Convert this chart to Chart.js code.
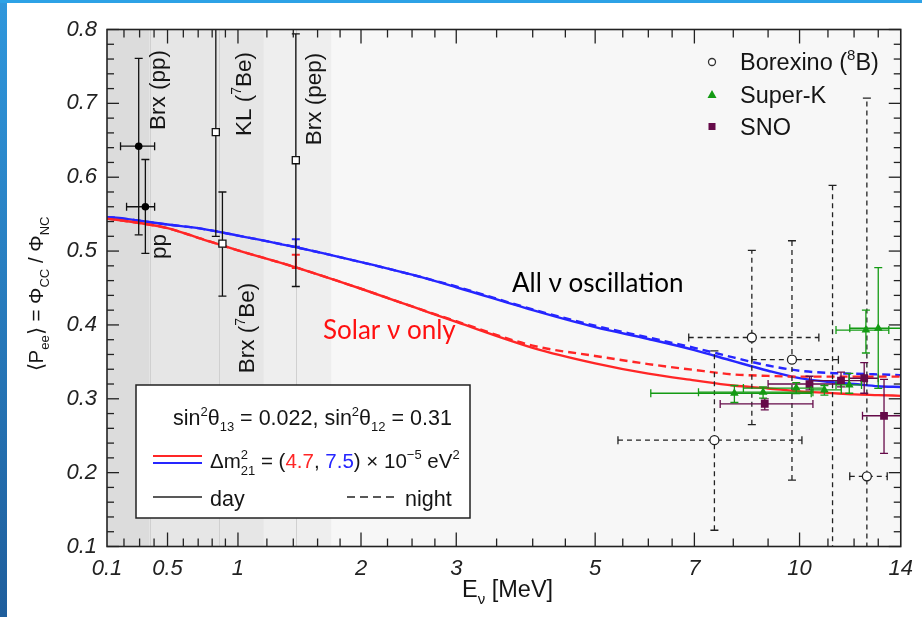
<!DOCTYPE html>
<html>
<head>
<meta charset="utf-8">
<script src="https://cdn.jsdelivr.net/npm/chart.js@4.4.0/dist/chart.umd.min.js"></script>
<style>
  html, body { margin: 0; padding: 0; background: #fff; overflow: hidden; }
  #wrap { position: relative; width: 922px; height: 617px; }
  #lbar { position: absolute; left: 0; top: 0; width: 7px; height: 617px; background: linear-gradient(#2f97dc, #1f5e9c); }
  #tbar { position: absolute; left: 0; top: 0; width: 922px; height: 3px; background: #2da2e6; }
  canvas { position: absolute; left: 0; top: 0; }
</style>
</head>
<body>
<div id="wrap">
  <canvas id="chart" width="922" height="617"></canvas>
  <div id="lbar"></div>
  <div id="tbar"></div>
</div>
<script>
// ---- data ----
const xTicks = [0.1, 0.5, 1, 2, 3, 5, 7, 10, 14];
const xMinor = [0.2, 0.3, 0.4, 0.6, 0.7, 0.8, 0.9, 1.2, 1.4, 1.6, 1.8, 2.25, 2.5, 2.75,
                3.5, 4, 4.5, 5.5, 6, 6.5, 8, 9, 11, 12, 13];
const yTicks = [0.1, 0.2, 0.3, 0.4, 0.5, 0.6, 0.7, 0.8];

// curves: <Pee> vs E for the two dm21^2 values, day and night
const curveE     = [0.1, 0.2, 0.3, 0.5, 0.7, 1, 1.4, 2, 2.5, 3, 4, 5, 6, 7, 8, 9, 10, 11, 12, 13, 14];
const allDay     = [0.546, 0.544, 0.541, 0.536, 0.531, 0.521, 0.506, 0.485, 0.468, 0.451, 0.420, 0.397, 0.381, 0.366, 0.351, 0.338, 0.328, 0.323, 0.320, 0.317, 0.316];
const allNight   = [0.546, 0.544, 0.541, 0.536, 0.531, 0.521, 0.506, 0.485, 0.468, 0.452, 0.421, 0.399, 0.383, 0.369, 0.356, 0.345, 0.338, 0.335, 0.334, 0.333, 0.332];
const solarDay   = [0.544, 0.541, 0.538, 0.531, 0.518, 0.501, 0.479, 0.449, 0.425, 0.404, 0.369, 0.348, 0.334, 0.325, 0.318, 0.314, 0.310, 0.308, 0.306, 0.305, 0.304];
const solarNight = [0.544, 0.541, 0.538, 0.531, 0.518, 0.501, 0.479, 0.449, 0.425, 0.405, 0.372, 0.358, 0.347, 0.339, 0.333, 0.331, 0.330, 0.330, 0.330, 0.330, 0.330];

// measurements: [E, P, Plo, Phi, Elo, Ehi]
const brxLowFilled = [[0.294, 0.642, 0.522, 0.761, 0.179, 0.404],
                      [0.339, 0.560, 0.497, 0.624, 0.216, 0.404]];
const lowOpen = [[0.827, 0.661, 0.520, 0.85, null, null],
                 [0.877, 0.510, 0.439, 0.580, null, null],
                 [1.420, 0.623, 0.452, 0.794, null, null]];
const predAll   = [[1.420, 0.516, 0.506, 0.516, null, null]];
const predSolar = [[1.420, 0.495, 0.477, 0.495, null, null]];
const borexino = [[8.52, 0.383, 0.265, 0.501, 6.87, 10.67],
                  [9.75, 0.353, 0.190, 0.514, 8.52, 11.39],
                  [7.50, 0.244, 0.122, 0.365, 5.41, 10.08],
                  [12.52, 0.195, 0.05, 0.707, 11.83, 13.39],
                  [11.17, 0.05, -0.1, 0.589, 10.2, 12.2]];
const superK = [[8.03, 0.3075, 0.295, 0.318, 6.05, 10.40],
                [8.85, 0.309, 0.301, 0.316, 7.10, 10.46],
                [9.89, 0.3145, 0.307, 0.322, 8.28, 10.87],
                [10.87, 0.312, 0.305, 0.318, 10.40, 11.50],
                [11.81, 0.3187, 0.3075, 0.3345, 11.30, 12.30],
                [12.48, 0.393, 0.362, 0.420, 11.30, 13.46],
                [13.00, 0.3955, 0.314, 0.4775, 11.83, 14.0]];
const sno = [[8.90, 0.293, 0.285, 0.300, 7.65, 10.46],
             [10.34, 0.320, 0.312, 0.3305, 9.00, 11.49],
             [11.49, 0.3245, 0.316, 0.336, 10.40, 12.30],
             [12.41, 0.3278, 0.3075, 0.349, 11.80, 13.00],
             [13.25, 0.277, 0.226, 0.3264, 12.34, 14.0]];

// pp / 7Be / pep shaded regions
const bands = [[0.1, 0.369, '#dcdcdc'], [0.369, 1.178, '#e6e6e6'], [1.178, 1.72, '#eeeeee']];
const bandLines = [0.369, 0.852, 1.418];

const FONT = "'Liberation Sans', Arial, sans-serif";
const BLUE = '#2626ff', RED = '#ff2626', GREEN = '#139a13', PURPLE = '#650a49';

// ---- custom energy axis (compressed below 1 MeV, log-like above) ----
const knotT = xTicks.map(e => Math.log10(e + 1));
const knotF = [0, 61, 132, 256, 352, 492, 592, 698, 800].map(p => p / 800);

function warp(v) {
  const t = Math.log10(Math.max(v, -0.99) + 1);
  let i = 0;
  while (i < knotT.length - 2 && t > knotT[i + 1]) i++;
  return knotF[i] + (t - knotT[i]) / (knotT[i + 1] - knotT[i]) * (knotF[i + 1] - knotF[i]);
}
function unwarp(f) {
  let i = 0;
  while (i < knotF.length - 2 && f > knotF[i + 1]) i++;
  const t = knotT[i] + (f - knotF[i]) / (knotF[i + 1] - knotF[i]) * (knotT[i + 1] - knotT[i]);
  return Math.pow(10, t) - 1;
}

class WarpScale extends Chart.LinearScale {
  buildTicks() { return xTicks.map(v => ({ value: v })); }
  getPixelForValue(v) { return this.getPixelForDecimal(warp(v)); }
  getValueForPixel(p) { return unwarp(this.getDecimalForPixel(p)); }
}
WarpScale.id = 'warp';
WarpScale.defaults = Chart.LinearScale.defaults;
Chart.register(WarpScale);

// ---- helpers ----
function drawRich(ctx, segs, x, y, size, align) {
  const big = size + 'px ' + FONT;
  const small = Math.round(size * 0.62) + 'px ' + FONT;
  const widthOf = s => {
    ctx.font = s[1] ? small : big;
    if (s[1] === 'ss') return Math.max(...s[0].split('|').map(t => ctx.measureText(t).width));
    return ctx.measureText(s[0]).width;
  };
  let w = 0;
  segs.forEach(s => { w += widthOf(s); });
  let cx = align === 'center' ? x - w / 2 : x;
  ctx.textAlign = 'left';
  ctx.textBaseline = 'alphabetic';
  segs.forEach(s => {
    const sw = widthOf(s);
    ctx.fillStyle = s[2] || '#151515';
    if (s[1] === 'sup') ctx.fillText(s[0], cx, y - size * 0.42);
    else if (s[1] === 'sub') ctx.fillText(s[0], cx, y + size * 0.28);
    else if (s[1] === 'ss') {
      const [a, b] = s[0].split('|');
      ctx.fillText(a, cx, y - size * 0.45);
      ctx.fillText(b, cx, y + size * 0.32);
    } else ctx.fillText(s[0], cx, y);
    cx += sw;
  });
}

function drawRotated(ctx, segs, cx, cy, size) {
  ctx.save();
  ctx.translate(cx, cy);
  ctx.rotate(-Math.PI / 2);
  drawRich(ctx, segs, 0, size * 0.36, size, 'center');
  ctx.restore();
}

function line(ctx, x0, y0, x1, y1) {
  ctx.beginPath(); ctx.moveTo(x0, y0); ctx.lineTo(x1, y1); ctx.stroke();
}

function pts(rows) { return rows.map(r => ({ x: r[0], y: r[1] })); }
function curve(vals) { return curveE.map((e, i) => ({ x: e, y: vals[i] })); }

// ---- plugin: shading, error bars, frame, ticks, legends, labels ----
const decor = {
  id: 'decor',
  beforeDatasetsDraw(chart) {
    const { ctx, chartArea: a, scales: { x } } = chart;
    ctx.save();
    ctx.fillStyle = '#f7f7f7';
    ctx.fillRect(a.left, a.top, a.width, a.height);
    bands.forEach(([e0, e1, col]) => {
      const p0 = x.getPixelForValue(e0), p1 = x.getPixelForValue(e1);
      ctx.fillStyle = col;
      ctx.fillRect(p0, a.top, p1 - p0, a.height);
    });
    ctx.strokeStyle = '#d0d0d0';
    ctx.lineWidth = 1;
    bandLines.forEach(e => {
      const p = Math.round(x.getPixelForValue(e)) + 0.5;
      line(ctx, p, a.top, p, a.bottom);
    });
    ctx.restore();
  },
  beforeDatasetDraw(chart, args) {
    const ds = chart.data.datasets[args.index];
    if (!ds.err) return;
    const { ctx, chartArea: a, scales: { x, y } } = chart;
    ctx.save();
    ctx.beginPath();
    ctx.rect(a.left, a.top, a.width, a.height);
    ctx.clip();
    ctx.strokeStyle = ds.errColor;
    ctx.lineWidth = ds.errWidth || 1.3;
    ctx.setLineDash(ds.errDash || []);
    const cap = 4;
    ds.err.forEach(([e, p, plo, phi, elo, ehi]) => {
      const px = x.getPixelForValue(e), py = y.getPixelForValue(p);
      if (plo !== null) {
        const y0 = y.getPixelForValue(plo), y1 = y.getPixelForValue(phi);
        line(ctx, px, y0, px, y1);
        ctx.setLineDash([]);
        line(ctx, px - cap, y0, px + cap, y0);
        line(ctx, px - cap, y1, px + cap, y1);
        ctx.setLineDash(ds.errDash || []);
      }
      if (elo !== null) {
        const x0 = x.getPixelForValue(elo), x1 = x.getPixelForValue(ehi);
        line(ctx, x0, py, x1, py);
        ctx.setLineDash([]);
        line(ctx, x0, py - cap, x0, py + cap);
        line(ctx, x1, py - cap, x1, py + cap);
        ctx.setLineDash(ds.errDash || []);
      }
    });
    ctx.restore();
  },
  afterDraw(chart) {
    const { ctx, chartArea: a, scales: { x, y } } = chart;
    ctx.save();
    // inward ticks on all four sides
    ctx.strokeStyle = '#222';
    ctx.lineWidth = 1.3;
    const xt = (vals, len) => vals.forEach(v => {
      const p = x.getPixelForValue(v);
      line(ctx, p, a.bottom, p, a.bottom - len);
      line(ctx, p, a.top, p, a.top + len);
    });
    xt(xTicks.slice(1, -1), 14);
    xt(xMinor, 8);
    for (let k = 0; k <= 35; k++) {
      const v = 0.1 + k * 0.02;
      const len = k % 5 === 0 ? 12 : 7;
      const p = y.getPixelForValue(v);
      line(ctx, a.left, p, a.left + len, p);
      line(ctx, a.right, p, a.right - len, p);
    }
    // frame
    ctx.lineWidth = 1.6;
    ctx.strokeRect(a.left, a.top, a.width, a.height);

    // axis titles
    drawRich(ctx, [['E', ''], ['ν', 'sub'], [' [MeV]', '']], 462, 597, 23.5, 'left');
    drawRotated(ctx, [['⟨P', ''], ['ee', 'sub'], ['⟩ = Φ', ''], ['CC', 'sub'], [' / Φ', ''], ['NC', 'sub']], 36, 294, 20.5);

    // experiment labels
    drawRotated(ctx, [['Brx (pp)', '']], 156.5, 90, 22.5);
    drawRotated(ctx, [['KL (', ''], ['7', 'sup'], ['Be)', '']], 242.5, 94, 22.5);
    drawRotated(ctx, [['Brx (pep)', '']], 312.5, 99, 22.5);
    drawRotated(ctx, [['pp', '']], 158, 246.5, 22.5);
    drawRotated(ctx, [['Brx (', ''], ['7', 'sup'], ['Be)', '']], 246, 328, 22.5);

    // curve annotations
    ctx.textAlign = 'left';
    ctx.textBaseline = 'alphabetic';
    ctx.font = "26px Lato, 'Open Sans', sans-serif";
    ctx.fillStyle = '#000';
    ctx.fillText('All ν oscillation', 512, 292);
    ctx.fillStyle = '#ff1010';
    ctx.fillText('Solar ν only', 323, 339);

    // top-right legend
    const lx = 712;
    ctx.lineWidth = 1.3;
    ctx.strokeStyle = '#333';
    ctx.fillStyle = '#fff';
    ctx.beginPath(); ctx.arc(lx, 62, 3.5, 0, Math.PI * 2); ctx.fill(); ctx.stroke();
    ctx.fillStyle = GREEN;
    ctx.beginPath(); ctx.moveTo(lx, 90); ctx.lineTo(lx + 4.5, 98); ctx.lineTo(lx - 4.5, 98); ctx.closePath(); ctx.fill();
    ctx.fillStyle = PURPLE;
    ctx.fillRect(lx - 3.5, 123, 7, 7);
    drawRich(ctx, [['Borexino (', ''], ['8', 'sup'], ['B)', '']], 740, 70, 23.5, 'left');
    drawRich(ctx, [['Super-K', '']], 740, 103, 23.5, 'left');
    drawRich(ctx, [['SNO', '']], 740, 135, 23.5, 'left');

    // bottom-left parameter box
    ctx.fillStyle = '#fff';
    ctx.fillRect(136, 385, 334, 133);
    ctx.strokeStyle = '#222';
    ctx.lineWidth = 1.5;
    ctx.strokeRect(136, 385, 334, 133);
    drawRich(ctx, [['sin', ''], ['2', 'sup'], ['θ', ''], ['13', 'sub'], [' = 0.022, sin', ''], ['2', 'sup'], ['θ', ''], ['12', 'sub'], [' = 0.31', '']], 173, 425, 21.5, 'left');
    ctx.lineWidth = 2;
    ctx.strokeStyle = RED; line(ctx, 153, 456, 202, 456);
    ctx.strokeStyle = BLUE; line(ctx, 153, 463, 202, 463);
    drawRich(ctx, [['Δm', ''], ['2|21', 'ss'], [' = (', ''], ['4.7', '', RED], [', ', ''], ['7.5', '', BLUE], [') × 10', ''], ['−5', 'sup'], [' eV', ''], ['2', 'sup']], 210, 468, 20.5, 'left');
    ctx.lineWidth = 1.5;
    ctx.strokeStyle = '#222'; line(ctx, 153, 497, 202, 497);
    ctx.setLineDash([8, 5]); line(ctx, 347, 497, 394, 497); ctx.setLineDash([]);
    drawRich(ctx, [['day', '']], 210, 506, 21.5, 'left');
    drawRich(ctx, [['night', '']], 405, 506, 21.5, 'left');
    ctx.restore();
  }
};

// ---- chart ----
const curveStyle = (vals, color, dash) => ({
  data: curve(vals), showLine: true, pointRadius: 0, borderColor: color, borderWidth: 2.4,
  borderDash: dash, cubicInterpolationMode: 'monotone', order: 10
});

new Chart(document.getElementById('chart'), {
  type: 'scatter',
  data: {
    datasets: [
      curveStyle(solarNight, RED, [8, 5]),
      curveStyle(allNight, BLUE, [8, 5]),
      curveStyle(solarDay, RED, []),
      curveStyle(allDay, BLUE, []),
      { data: pts(predAll), err: predAll, errColor: BLUE, errWidth: 2, pointRadius: 0, order: 5 },
      { data: pts(predSolar), err: predSolar, errColor: RED, errWidth: 2, pointRadius: 0, order: 5 },
      { data: pts(borexino), err: borexino, errColor: '#222', errDash: [5, 4], pointStyle: 'circle',
        pointRadius: 4.5, backgroundColor: '#fff', borderColor: '#222', borderWidth: 1.3, order: 4 },
      { data: pts(sno), err: sno, errColor: PURPLE, pointStyle: 'rect', pointRadius: 5.5,
        backgroundColor: PURPLE, borderColor: PURPLE, borderWidth: 0, order: 3 },
      { data: pts(superK), err: superK, errColor: GREEN, pointStyle: 'triangle', pointRadius: 5,
        backgroundColor: GREEN, borderColor: GREEN, borderWidth: 0, order: 2 },
      { data: pts(lowOpen), err: lowOpen, errColor: '#111', pointStyle: 'rect', pointRadius: 5,
        backgroundColor: '#fff', borderColor: '#111', borderWidth: 1.3, order: 1 },
      { data: pts(brxLowFilled), err: brxLowFilled, errColor: '#111', pointStyle: 'circle', pointRadius: 3.8,
        backgroundColor: '#000', borderColor: '#000', borderWidth: 0, order: 1 }
    ]
  },
  options: {
    responsive: false,
    animation: false,
    layout: { padding: { left: 0, right: 15, top: 29.5, bottom: 0 } },
    plugins: { legend: { display: false }, tooltip: { enabled: false } },
    scales: {
      x: {
        type: 'warp', min: 0.1, max: 14,
        grid: { display: false, drawTicks: false, tickLength: 0 },
        border: { display: false },
        ticks: {
          autoSkip: false, maxRotation: 0, padding: 9, color: '#222',
          font: { family: FONT, size: 22, style: 'italic' },
          callback: v => String(v)
        },
        afterFit: s => { s.height = 70.5; }
      },
      y: {
        type: 'linear', min: 0.1, max: 0.8,
        grid: { display: false, drawTicks: false, tickLength: 0 },
        border: { display: false },
        afterBuildTicks: s => { s.ticks = yTicks.map(v => ({ value: v })); },
        ticks: {
          padding: 10, color: '#222',
          font: { family: FONT, size: 22, style: 'italic' },
          callback: v => v.toFixed(1)
        },
        afterFit: s => { s.width = 107; }
      }
    }
  },
  plugins: [decor]
});
</script>
</body>
</html>
